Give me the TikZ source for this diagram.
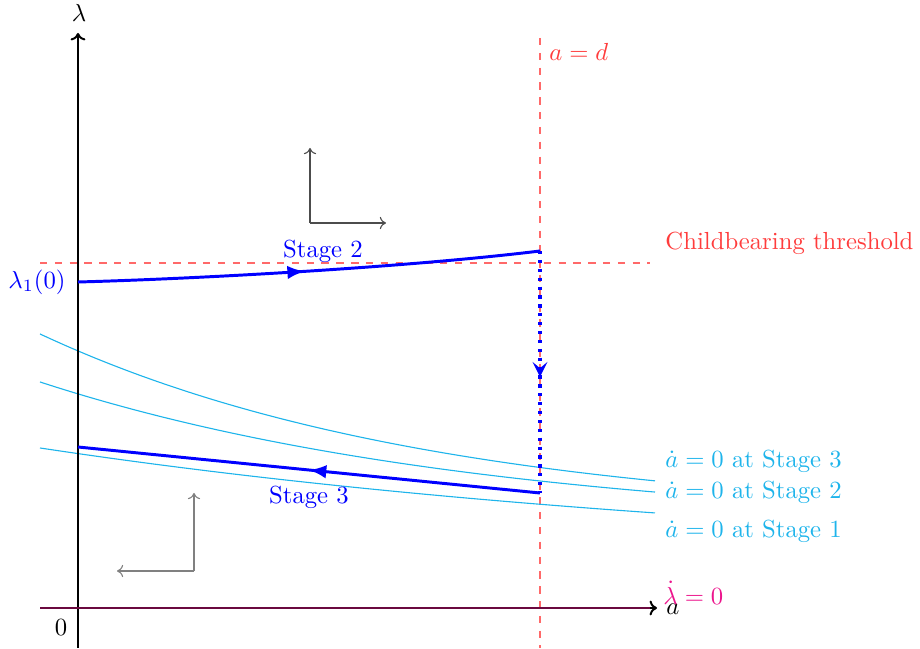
\documentclass[tikz,border=0pt]{standalone}
\usetikzlibrary{arrows.meta,decorations.markings}
\definecolor{cyanline}{RGB}{30,180,235}
\definecolor{magline}{RGB}{236,20,140}
\definecolor{redline}{RGB}{255,105,105}
\definecolor{redtext}{RGB}{255,60,60}
\begin{document}
\begin{tikzpicture}[x=0.405pt,y=-0.405pt,
  lbl/.style={inner sep=0pt},
  axisline/.style={line width=0.8pt,-{To[length=3pt,width=6pt]}},
  guide/.style={redline,dashed,line width=0.6pt},
  nullcl/.style={cyanline,line width=0.45pt},
  stagepath/.style={blue,line width=1.2pt},
  dirarrow/.style={line width=0.45pt,-{To[length=2.5pt,width=5pt]}},
  midarrow/.style={postaction={decorate,decoration={markings,mark=at position #1 with {\arrow{Latex[length=7pt,width=5.5pt]}}}}},
  midstealth/.style={postaction={decorate,decoration={markings,mark=at position #1 with {\arrow[solid]{Stealth[length=6pt,width=6pt,inset=2.5pt]}}}}}
]
\useasboundingbox (0,0) rectangle (920,649);

% coordinates
\coordinate (yb) at (78,648);
\coordinate (yt) at (78,33);
\coordinate (xl) at (40,608);
\coordinate (xr) at (657,608);
\coordinate (vdt) at (540,38);
\coordinate (vdb) at (540,648);
\coordinate (hdl) at (40,263);
\coordinate (hdr) at (650,263);
\coordinate (s2a) at (78,282);
\coordinate (s2b) at (540,251);
\coordinate (s3a) at (540,493);
\coordinate (s3b) at (78,447);
\coordinate (u0) at (310,223);
\coordinate (u1) at (310,148);
\coordinate (u2) at (386,223);
\coordinate (l0) at (194,571);
\coordinate (l1) at (194,493);
\coordinate (l2) at (117,571);

% red guides
\draw[guide] (vdt) -- (vdb);
\draw[guide] (hdl) -- (hdr);

% nullclines adot=0
\draw[nullcl] plot[domain=40:655,samples=80] (\x,{521-187*exp(-0.0025*(\x-40))});
\draw[nullcl] plot[domain=40:655,samples=80] (\x,{530.5-148.5*exp(-0.0022*(\x-40))});
\draw[nullcl] plot[domain=40:655,samples=80] (\x,{569-121*exp(-0.00125*(\x-40))});

% axes
\draw[axisline] (yb) -- (yt);
\draw[axisline] (xl) -- (xr);
\draw[magline,opacity=0.45,line width=0.8pt] (xl) -- (650,608);

% direction arrows
\draw[dirarrow,black!70] (u0) -- (u1);
\draw[dirarrow,black!70] (u0) -- (u2);
\draw[dirarrow,black!50] (l0) -- (l1);
\draw[dirarrow,black!50] (l0) -- (l2);

% paths
\draw[stagepath,midarrow=0.49] (s2a) .. controls (190,279) and (400,268) .. (s2b);
\draw[blue,line width=1.3pt,dash pattern=on 1.3pt off 2.3pt,midstealth=0.52] (s2b) -- (s3a);
\draw[stagepath,midarrow=0.5] (s3a) -- (s3b);

% labels
\node[lbl] (lamlbl) at (79,13) {$\lambda$};
\node[lbl,anchor=center] (albl) at (673,609) {$a$};
\node[lbl] (zero) at (61,628) {$0$};
\node[lbl,anchor=west,text=redtext] (adlbl) at (549,52) {$a=d$};
\node[lbl,anchor=west,text=redtext] (cblbl) at (665,243) {Childbearing threshold};
\node[lbl,anchor=east,text=blue] (l10) at (66,282) {$\lambda_1(0)$};
\node[lbl,text=blue] (st2) at (323,251) {Stage 2};
\node[lbl,text=blue] (st3) at (309,497) {Stage 3};
\node[lbl,anchor=west,text=cyanline] (n3) at (665,461) {$\dot a=0$ at Stage 3};
\node[lbl,anchor=west,text=cyanline] (n2) at (665,492) {$\dot a=0$ at Stage 2};
\node[lbl,anchor=west,text=cyanline] (n1) at (665,531) {$\dot a=0$ at Stage 1};
\node[lbl,anchor=west,text=magline] (lz) at (663,593) {$\dot\lambda=0$};
\end{tikzpicture}
\end{document}
